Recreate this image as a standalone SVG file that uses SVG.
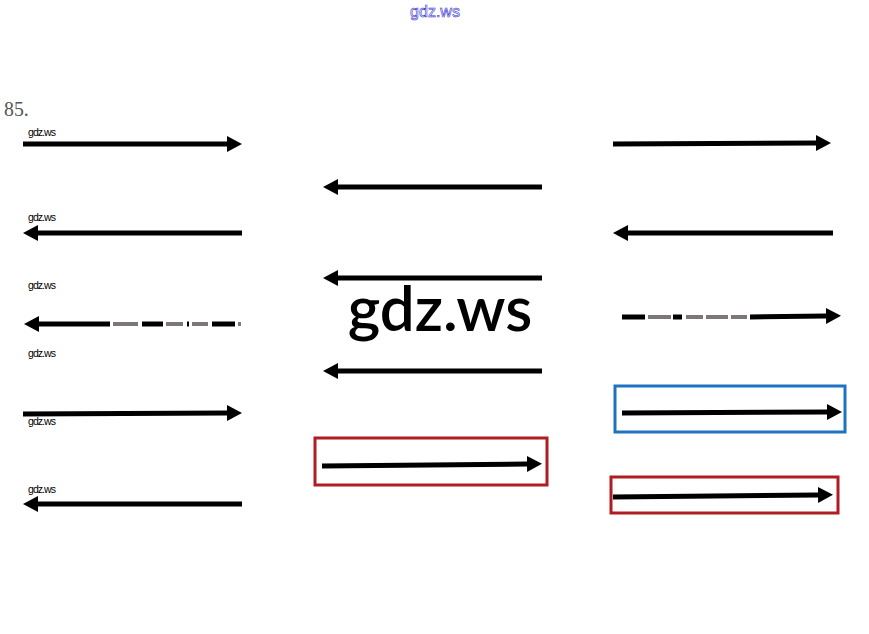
<svg xmlns="http://www.w3.org/2000/svg" width="869" height="634" viewBox="0 0 869 634">
<defs>
<marker id="ah" markerUnits="userSpaceOnUse" markerWidth="16" markerHeight="16" refX="0" refY="8" orient="auto" viewBox="0 0 16 16">
<path d="M0,0 L15,8 L0,16 z" fill="#000"/>
</marker>
</defs>
<style>
.ar{stroke:#000;stroke-width:5;fill:none;marker-end:url(#ah)}
.seg{stroke:#000;stroke-width:5}
.gs{stroke:#7d7676;stroke-width:4}
.lbl{font-family:"Liberation Sans",Arial,sans-serif;font-size:10.5px;fill:#000}
.box{fill:none;stroke-width:3}
</style>
<rect width="869" height="634" fill="#fff"/>
<text x="435" y="17" text-anchor="middle" font-family="'Liberation Sans',Arial,sans-serif" font-size="16" fill="#fff" stroke="#3030d0" stroke-width="0.6">gdz.ws</text>
<text x="4" y="116" font-family="'Liberation Serif','Times New Roman',serif" font-size="22" fill="#555" transform="translate(4,116) scale(0.9,1) translate(-4,-116)">85.</text>
<g id="labels">
<text class="lbl" x="28" y="136" textLength="28">gdz.ws</text>
<text class="lbl" x="28" y="221" textLength="28">gdz.ws</text>
<text class="lbl" x="28" y="289" textLength="28">gdz.ws</text>
<text class="lbl" x="28" y="357" textLength="28">gdz.ws</text>
<text class="lbl" x="28" y="425" textLength="28">gdz.ws</text>
<text class="lbl" x="28" y="493" textLength="28">gdz.ws</text>
</g>
<text id="watermark" x="440" y="331" text-anchor="middle" font-family="Lato,'Open Sans',sans-serif" font-weight="600" font-size="62" fill="#000">gdz.ws</text>
<g id="connectors">
<g id="left-col">
<line class="ar" x1="23" y1="144" x2="227" y2="144"/>
<line class="ar" x1="242" y1="233" x2="38" y2="233"/>
<g id="left-broken">
<line class="ar" x1="110" y1="324" x2="39" y2="324"/>
<line class="gs" x1="113" y1="324" x2="138" y2="324"/>
<line class="seg" x1="142" y1="324" x2="163" y2="324"/>
<line class="gs" x1="166" y1="324" x2="183" y2="324"/>
<line class="seg" x1="187" y1="324" x2="189" y2="324"/>
<line class="gs" x1="192" y1="324" x2="208" y2="324"/>
<line class="seg" x1="212" y1="324" x2="235" y2="324"/>
<line class="gs" x1="238" y1="324" x2="241" y2="324"/>
</g>
<line class="ar" x1="23" y1="414" x2="227" y2="413"/>
<line class="ar" x1="242" y1="504" x2="38" y2="504"/>
</g>
<g id="mid-col">
<line class="ar" x1="542" y1="187" x2="338" y2="187"/>
<line class="ar" x1="542" y1="278" x2="338" y2="278"/>
<line class="ar" x1="542" y1="371" x2="338" y2="371"/>
<line class="ar" x1="322" y1="466" x2="527" y2="464"/>
</g>
<g id="right-col">
<line class="ar" x1="613" y1="144" x2="816" y2="143"/>
<line class="ar" x1="833" y1="233" x2="628" y2="233"/>
<g id="right-broken">
<line class="seg" x1="622" y1="317" x2="645" y2="317"/>
<line class="gs" x1="648" y1="317" x2="671" y2="317"/>
<line class="seg" x1="673" y1="317" x2="682" y2="317"/>
<line class="gs" x1="686" y1="317" x2="703" y2="317"/>
<line class="gs" x1="706" y1="317" x2="728" y2="317"/>
<line class="gs" x1="731" y1="317" x2="747" y2="317"/>
<line class="ar" x1="750" y1="317" x2="826" y2="316"/>
</g>
<line class="ar" x1="622" y1="413" x2="827" y2="412"/>
<line class="ar" x1="613" y1="497" x2="818" y2="495"/>
</g>
</g>
<g id="boxes">
<rect id="box-mid-red" class="box" x="315" y="438" width="232" height="47" stroke="#b01c22"/>
<rect id="box-right-blue" class="box" x="615" y="386" width="230" height="46" stroke="#1f72c0"/>
<rect id="box-right-red" class="box" x="611" y="477" width="227" height="36" stroke="#b01c22"/>
</g>
</svg>
